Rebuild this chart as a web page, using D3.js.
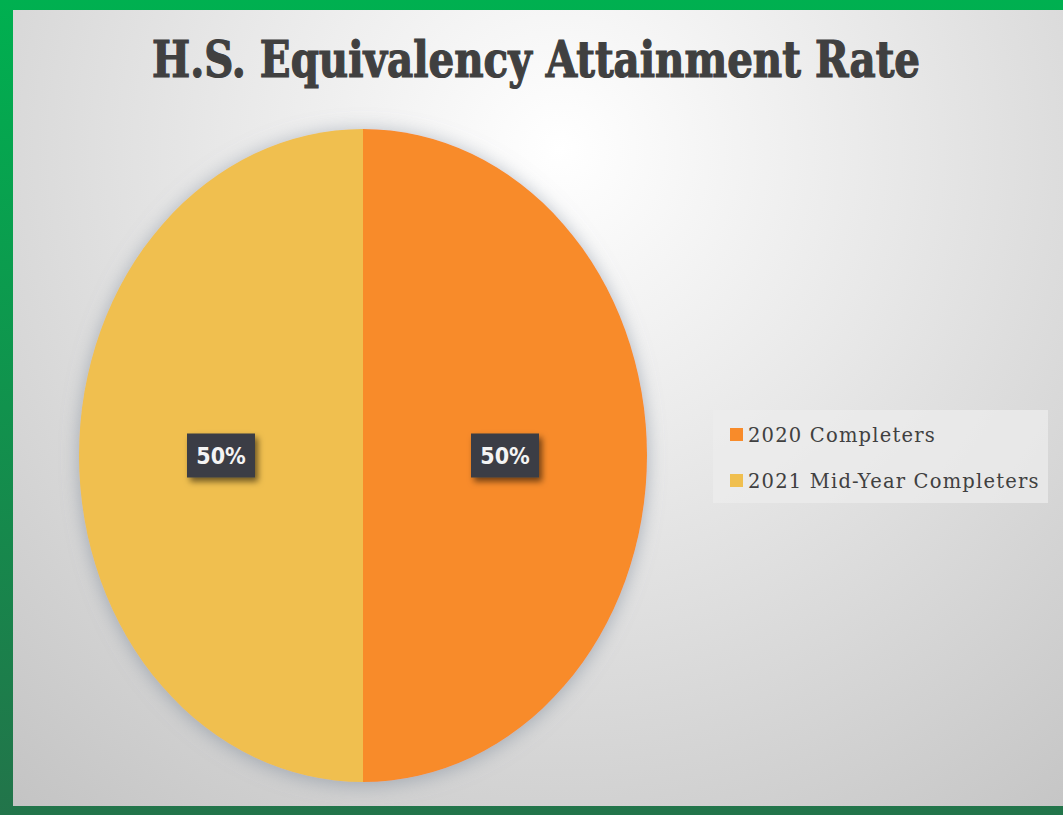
<!DOCTYPE html>
<html>
<head>
<meta charset="utf-8">
<script src="https://cdn.jsdelivr.net/npm/d3@7"></script>
<style>
  html, body { margin: 0; padding: 0; background: #217a4a; }
  #chart { width: 1063px; height: 815px; }
</style>
</head>
<body>
<div id="chart"></div>
<script>
// chart data
const categories = ['2020 Completers', '2021 Mid-Year Completers'];
const values = [50, 50];
const colors = ['#F88B2A', '#F0BF4F'];
const title = 'H.S. Equivalency Attainment Rate';

const width = 1063;
const height = 815;

const svg = d3.select('#chart')
  .append('svg')
  .attr('width', width)
  .attr('height', height);

const defs = svg.append('defs');

// green frame, darker towards the bottom
const frameGrad = defs.append('linearGradient')
  .attr('id', 'frame-grad')
  .attr('x1', 0).attr('y1', 0).attr('x2', 0).attr('y2', 1);
frameGrad.append('stop').attr('offset', '0%').attr('stop-color', '#00b050');
frameGrad.append('stop').attr('offset', '100%').attr('stop-color', '#22744a');

// light gray radial background
const bgGrad = defs.append('radialGradient')
  .attr('id', 'bg-grad')
  .attr('gradientUnits', 'userSpaceOnUse')
  .attr('cx', 560).attr('cy', 150).attr('r', 850);
bgGrad.append('stop').attr('offset', '0%').attr('stop-color', '#ffffff');
bgGrad.append('stop').attr('offset', '40%').attr('stop-color', '#e8e8e8');
bgGrad.append('stop').attr('offset', '100%').attr('stop-color', '#c4c4c4');

const pieShadow = defs.append('filter')
  .attr('id', 'pie-shadow')
  .attr('x', '-20%').attr('y', '-20%').attr('width', '140%').attr('height', '140%');
pieShadow.append('feDropShadow')
  .attr('dx', 0).attr('dy', 2).attr('stdDeviation', 9)
  .attr('flood-color', '#7f8a99').attr('flood-opacity', 0.6);

const labelShadow = defs.append('filter')
  .attr('id', 'label-shadow')
  .attr('x', '-30%').attr('y', '-30%').attr('width', '170%').attr('height', '170%');
labelShadow.append('feDropShadow')
  .attr('dx', 3).attr('dy', 4).attr('stdDeviation', 3)
  .attr('flood-color', '#000').attr('flood-opacity', 0.55);

svg.append('rect')
  .attr('width', width).attr('height', height)
  .attr('fill', 'url(#frame-grad)');

svg.append('rect')
  .attr('x', 13).attr('y', 10)
  .attr('width', width - 13).attr('height', 796)
  .attr('fill', 'url(#bg-grad)');

// title
svg.append('text')
  .attr('x', 536).attr('y', 77)
  .attr('text-anchor', 'middle')
  .attr('textLength', 768)
  .attr('lengthAdjust', 'spacingAndGlyphs')
  .style('font-family', '"DejaVu Serif Condensed", "DejaVu Serif", serif')
  .style('font-weight', 'bold')
  .style('font-size', '51px')
  .attr('fill', '#404040')
  .attr('stroke', '#404040')
  .attr('stroke-width', 1.2)
  .text(title);

// pie (drawn on a circle, then stretched into the ellipse)
const cx = 363, cy = 455.5, rx = 284, ry = 326.5;

const pie = d3.pie().sort(null).value(d => d);
const arcs = pie(values);
const total = d3.sum(values);
const fmt = d3.format('.0%');

const arc = d3.arc().innerRadius(0).outerRadius(rx);
const labelArc = d3.arc().innerRadius(rx * 0.5).outerRadius(rx * 0.5);

const pieG = svg.append('g')
  .attr('transform', `translate(${cx},${cy}) scale(1,${ry / rx})`)
  .attr('filter', 'url(#pie-shadow)');

pieG.selectAll('path')
  .data(arcs)
  .enter()
  .append('path')
  .attr('d', arc)
  .attr('fill', (d, i) => colors[i]);

// data labels
const labelG = svg.append('g')
  .attr('transform', `translate(${cx},${cy})`);

const labels = labelG.selectAll('.label')
  .data(arcs)
  .enter()
  .append('g')
  .attr('class', 'label')
  .attr('transform', d => {
    const [x, y] = labelArc.centroid(d);
    return `translate(${x},${y * ry / rx})`;
  });

labels.append('rect')
  .attr('x', -34).attr('y', -22)
  .attr('width', 68).attr('height', 44)
  .attr('fill', '#3a3c44')
  .attr('filter', 'url(#label-shadow)');

labels.append('text')
  .attr('text-anchor', 'middle')
  .attr('dy', '0.36em')
  .style('font-family', '"DejaVu Sans Condensed", "DejaVu Sans", sans-serif')
  .style('font-weight', 'bold')
  .style('font-size', '23px')
  .attr('fill', '#f4f4f4')
  .text(d => fmt(d.value / total));

// legend
const legend = svg.append('g')
  .attr('transform', 'translate(713,410)');

legend.append('rect')
  .attr('width', 335).attr('height', 93)
  .attr('fill', '#ececec')
  .attr('opacity', 0.75);

const items = legend.selectAll('.item')
  .data(categories)
  .enter()
  .append('g')
  .attr('class', 'item')
  .attr('transform', (d, i) => `translate(17,${25 + i * 46})`);

items.append('rect')
  .attr('x', 0).attr('y', -7)
  .attr('width', 13).attr('height', 13)
  .attr('fill', (d, i) => colors[i]);

items.append('text')
  .attr('x', 18).attr('y', 0)
  .attr('dy', '0.35em')
  .style('font-family', '"DejaVu Serif", serif')
  .style('font-size', '19.5px')
  .style('letter-spacing', '1.2px')
  .attr('fill', '#404040')
  .text(d => d);
</script>
</body>
</html>
